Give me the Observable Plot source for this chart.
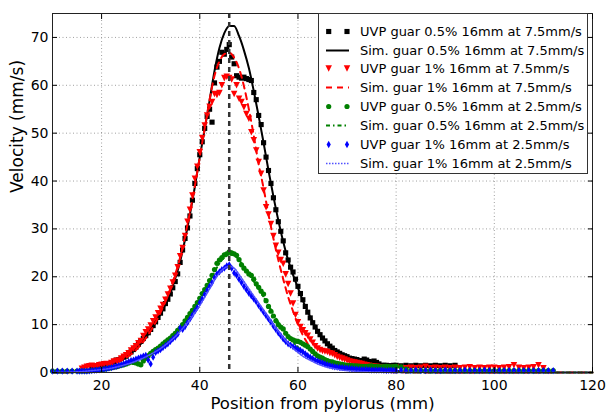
<!DOCTYPE html>
<html><head><meta charset="utf-8">
<script src="https://cdn.jsdelivr.net/npm/d3@7"></script>
<script src="https://cdn.jsdelivr.net/npm/@observablehq/plot@0.6"></script>
<style>
html,body{margin:0;padding:0;background:#fff;}
#wrap{position:relative;width:607px;height:412px;font-family:"DejaVu Sans",sans-serif;}
#legend{position:absolute;left:318px;top:13px;width:270px;height:161px;border:1px solid #333;background:#fff;box-sizing:border-box;}
.row{position:absolute;left:0;height:19px;width:100%;}
.row svg{position:absolute;left:0;top:0;}
.row span{position:absolute;left:41px;top:0;line-height:19px;font-size:13px;color:#000;white-space:nowrap;}
</style></head>
<body><div id="wrap"><div id="chart"></div><div id="legend"></div></div>
<script>
// ---- measured positions (mm) for UVP profiles ----
const pos = [10,11,12,13,14,
  15,15.5,16,16.5,17,17.5,18,18.5,19,19.5,20,20.5,21,21.5,22,22.5,23,23.5,24,24.5,25,25.5,26,26.5,27,27.5,28,28.5,29,29.5,30,30.5,31,31.5,32,32.5,33,33.5,34,34.5,35,
  35.5,36,36.5,37,37.5,38,38.5,39,39.5,40,40.5,41,41.5,42,42.5,43,43.5,44,44.5,45,45.5,46,46.5,47,47.5,48,48.5,49,49.5,50,50.5,51,51.5,52,52.5,53,53.5,54,54.5,55,55.5,56,56.5,57,57.5,58,
  58.5,59,59.5,60,60.5,61,61.5,62,62.5,63,63.5,64,64.5,65,65.5,66,66.5,67,67.5,68,68.5,69,69.5,70,70.5,71,71.5,72,72.5,73,73.5,74,74.5,75,75.5,76,76.5,77,77.5,78,78.5,79,79.5,80,
  81,82,83,84,85,86,87,88,89,90,91,92,93,94,95,96,97,98,99,100,101,102,103,104,105,106,107,108,109,110,111,112];

// UVP guar 0.5% 16mm at 7.5mm/s (mm/s)
const uvpBlack = [null,null,null,null,null,
  null,null,null,null,null,null,1.0,1.1,1.2,1.2,1.3,1.5,1.6,1.8,2.0,2.3,2.6,2.7,2.9,3.2,3.4,3.9,4.3,4.8,5.3,5.9,6.5,7.1,7.7,8.3,9.0,9.8,10.6,11.5,12.4,13.3,14.4,15.3,16.4,17.7,19.0,
  20.6,23.0,25.6,28.0,30.2,32.7,36.0,39.5,42.6,45.5,48.2,51.0,53.5,55.0,52.3,60.5,63.8,65.0,66.9,66.5,67.5,68.5,65.9,64.5,62.0,61.7,61.5,61.7,61.4,61.2,61.0,58.5,57.0,53.7,51.8,48.0,45.0,42.2,39.5,36.5,34.0,31.5,29.5,27.5,25.0,23.5,
  22.0,21.0,19.5,18.0,16.5,15.2,13.8,12.6,11.4,10.4,9.5,8.6,7.9,7.2,6.6,6.0,5.5,5.1,4.6,4.3,4.0,3.7,3.5,3.3,3.0,2.9,2.8,2.7,2.5,2.5,2.8,2.6,2.3,2.2,2.4,2.1,1.8,1.5,1.5,1.5,1.4,1.4,1.5,1.5,
  1.4,1.5,1.4,1.5,1.4,1.5,1.4,1.5,1.4,1.5,1.4,1.5,null,null,null,null,null,null,null,null,null,null,null,null,null,null,null,null,null,null,null,null];

// UVP guar 1% 16mm at 7.5mm/s
const uvpRed = [null,null,null,null,null,
  null,null,0.8,1.0,1.2,1.3,1.4,1.2,1.3,1.5,1.6,1.7,1.8,1.7,2.0,2.3,2.4,2.5,2.9,3.3,3.6,4.0,4.6,5.0,5.5,6.1,6.6,7.6,8.4,9.0,9.8,10.7,11.5,12.4,13.3,14.1,15.2,16.3,17.5,18.8,20.2,
  22.0,24.3,26.0,28.5,31.5,34.0,37.0,40.5,43.0,46.0,49.0,51.6,53.7,55.5,56.5,58.2,58.0,58.4,60.0,61.5,61.8,61.5,61.2,58.2,60.0,57.2,56.5,55.4,54.0,53.0,50.2,48.5,46.4,44.0,41.5,38.0,34.5,33.0,31.0,28.5,26.5,25.0,23.5,22.7,20.5,18.5,
  16.5,14.4,12.0,10.5,9.5,8.8,8.2,7.7,6.9,6.2,5.5,5.0,4.7,4.5,4.4,4.3,4.0,3.9,3.6,3.3,3.1,2.9,2.7,2.5,2.3,2.2,2.1,2.0,1.9,1.8,1.6,1.5,1.4,1.3,1.2,1.2,1.1,1.0,1.0,1.0,0.9,0.9,1.0,1.0,
  0.9,0.9,1.0,0.9,1.0,1.2,0.9,1.0,0.9,1.0,0.9,1.0,0.9,1.0,1.1,0.9,1.0,0.9,1.0,1.0,0.9,1.0,1.1,1.5,1.0,0.9,1.0,1.1,1.5,0.9,null,null];

// UVP guar 0.5% 16mm at 2.5mm/s
const uvpGreen = [0.3,0.3,0.3,0.3,0.3,
  0.3,0.3,0.3,0.3,0.3,0.35,0.4,0.45,0.5,0.55,0.6,0.7,0.8,0.9,1.0,1.1,1.2,1.35,1.5,1.6,1.8,2.0,2.2,2.1,2.0,1.8,1.6,2.4,3.0,3.5,4.0,4.4,4.8,5.1,5.5,6.0,6.4,6.8,7.2,7.7,8.2,
  8.8,9.3,10.0,10.8,11.5,12.3,13.0,13.8,14.6,15.5,16.5,17.3,18.2,19.2,20.3,21.5,22.8,23.5,24.0,24.6,24.8,25.2,25.0,24.8,24.5,23.6,22.5,21.8,21.2,20.6,20.3,19.5,18.5,17.8,17.0,16.4,15.0,13.8,12.8,11.8,10.8,10.0,9.5,9.1,8.2,7.5,
  7.1,6.8,6.6,6.5,6.3,6.0,5.7,5.4,4.9,4.4,3.9,3.5,3.2,3.0,2.7,2.5,2.3,2.2,2.0,1.9,1.8,1.7,1.6,1.5,1.5,1.45,1.4,1.4,1.35,1.3,1.3,1.3,1.35,1.4,1.3,1.3,1.25,1.2,1.25,1.3,1.25,1.2,1.25,1.3,
  1.2,0.7,0.4,0.4,0.4,0.4,0.4,0.4,0.4,0.4,0.4,0.4,0.4,0.4,0.4,0.4,0.4,0.4,0.4,0.4,0.4,0.4,0.4,0.4,0.4,0.4,0.4,0.4,0.4,0.4,0.4,0.4];

// UVP guar 1% 16mm at 2.5mm/s
const uvpBlue = [0.3,0.3,0.3,0.3,0.3,
  0.3,0.3,0.3,0.3,0.3,0.35,0.4,0.45,0.5,0.55,0.6,0.7,0.8,0.9,1.0,1.15,1.3,1.45,1.6,1.8,2.0,2.2,2.5,2.6,2.8,3.0,3.2,3.4,3.6,2.6,1.8,3.2,4.2,4.5,4.8,5.2,5.6,6.0,6.5,7.0,7.4,
  8.0,9.3,9.0,9.6,10.4,11.2,12.0,12.8,13.6,14.6,15.4,16.3,17.2,18.0,18.8,19.8,20.6,21.0,21.5,21.8,22.3,22.5,21.8,20.8,20.3,19.5,18.8,18.0,17.3,16.6,16.0,15.4,14.8,14.0,13.3,12.6,11.9,11.2,10.5,9.7,9.0,8.3,7.7,7.0,6.5,6.0,
  5.7,5.4,5.1,4.8,4.6,4.3,3.9,3.5,3.2,2.9,2.6,2.4,2.2,2.0,1.8,1.6,1.45,1.3,1.2,1.1,1.05,1.0,0.95,0.9,0.85,0.8,0.75,0.7,0.65,0.6,0.6,0.6,0.55,0.5,0.5,0.5,0.5,0.5,0.45,0.4,0.45,0.5,0.45,0.4,
  0.5,0.4,0.4,0.5,0.4,0.4,0.5,0.4,0.4,0.5,0.4,0.4,0.4,0.5,0.4,0.4,0.4,0.5,0.4,0.4,0.4,0.4,0.4,0.4,0.4,0.4,0.4,0.4,0.4,0.4,0.4,0.4];

// ---- simulated profiles ----
const simPos = [10,14,16,18,20,22,24,26,28,30,32,34,35,36,37,38,39,40,41,42,43,44,45,46,47,48,49,50,51,52,53,54,55,56,57,58,59,60,61,62,63,64,65,66,67,68,69,70,72,74,76,78,80,85,90,100,110,120];
const simBlack = [0,0.05,0.2,0.5,0.9,1.6,2.6,4.0,6.0,8.8,12.2,16.6,19.6,23.2,27.8,33.0,38.8,45.0,50.8,56.8,63.0,67.8,70.9,72.4,72.4,70.3,67.3,63.6,58.8,53.5,48.0,42.2,36.8,31.8,27.3,23.5,20.4,17.7,15.0,12.7,10.6,8.7,7.2,6.0,5.0,4.2,3.5,2.9,1.9,1.2,0.8,0.5,0.3,0.1,0,0,0,0];
const simRed = [0,0.1,0.3,0.6,1.0,1.6,2.5,3.8,5.8,8.7,12.5,17.5,20.5,24.0,28.5,33.5,39.0,45.0,51.0,57.0,62.0,65.0,66.5,66.8,65.8,63.5,59.8,55.0,49.5,43.5,38.5,33.0,28.0,23.5,19.5,15.8,12.8,10.0,7.8,6.0,4.5,3.4,2.6,2.0,1.5,1.1,0.8,0.6,0.4,0.25,0.15,0.1,0.05,0,0,0,0,0];
const simGreen = [0,0.1,0.2,0.4,0.6,1.0,1.5,2.2,3.0,4.2,5.5,7.2,8.2,9.3,10.7,12.2,13.7,15.3,17.1,19.0,21.0,22.8,24.0,24.6,24.5,23.5,22.0,20.5,19.0,17.5,15.8,14.0,12.2,10.5,9.0,7.6,6.4,5.3,4.4,3.6,3.0,2.4,2.0,1.6,1.3,1.0,0.8,0.6,0.4,0.25,0.15,0.1,0.05,0,0,0,0,0];
const simBlue = [0,0.1,0.2,0.4,0.6,0.9,1.4,2.0,2.8,3.8,5.0,6.6,7.5,8.6,9.8,11.0,12.5,14.0,15.7,17.5,19.3,20.8,21.8,22.2,21.8,20.5,19.0,17.5,16.0,14.5,13.0,11.5,10.0,8.6,7.3,6.1,5.1,4.2,3.4,2.8,2.3,1.8,1.4,1.1,0.9,0.7,0.5,0.4,0.25,0.15,0.1,0.05,0,0,0,0,0,0];

const xTicks = [20,40,60,80,100,120];
const yTicks = [0,10,20,30,40,50,60,70];
const peakPosition = [46];
const seriesLabels = [
  "UVP guar 0.5% 16mm at 7.5mm/s","Sim. guar 0.5% 16mm at 7.5mm/s",
  "UVP guar 1% 16mm at 7.5mm/s","Sim. guar 1% 16mm at 7.5mm/s",
  "UVP guar 0.5% 16mm at 2.5mm/s","Sim. guar 0.5% 16mm at 2.5mm/s",
  "UVP guar 1% 16mm at 2.5mm/s","Sim. guar 1% 16mm at 2.5mm/s"];

[uvpBlack, uvpRed, uvpGreen, uvpBlue].forEach((a,i) => { if (a.length !== pos.length) console.error("uvp length mismatch", i, a.length, pos.length); });
[simBlack, simRed, simGreen, simBlue].forEach((a,i) => { if (a.length !== simPos.length) console.error("sim length mismatch", i, a.length); });

const pts = vals => pos.map((x,i)=>({x, v: vals[i]})).filter(d => d.v != null);
const simPts = vals => simPos.map((x,i)=>({x, v: vals[i]}));

const triangleDown = {draw(ctx, size){ const h = Math.sqrt(2*size)/2;
  ctx.moveTo(0, h); ctx.lineTo(-h, -h); ctx.lineTo(h, -h); ctx.closePath(); }};

const styles = [
  {kind:"dot", symbol:"square", fill:"#000000", r:2.9},
  {kind:"line", stroke:"#000000", width:2, dash:null},
  {kind:"dot", symbol:triangleDown, fill:"#ff0000", r:2.6},
  {kind:"line", stroke:"#ff0000", width:2, dash:"6,5"},
  {kind:"dot", symbol:"circle", fill:"#008000", r:2.6},
  {kind:"line", stroke:"#008000", width:2, dash:"4,3,1.5,3"},
  {kind:"dot", symbol:"diamond", fill:"#0000ff", r:2.2},
  {kind:"line", stroke:"#5050ff", width:1.6, dash:"1.5,1.5"}
];
const datasets = [pts(uvpBlack), simPts(simBlack), pts(uvpRed), simPts(simRed), pts(uvpGreen), simPts(simGreen), pts(uvpBlue), simPts(simBlue)];

const dataMarks = datasets.map((d,i) => {
  const s = styles[i];
  if (s.kind === "dot") return Plot.dot(d, {x:"x", y:"v", symbol: () => s.symbol, fill: s.fill, r: s.r, stroke: "none"});
  return Plot.line(d, {x:"x", y:"v", stroke: s.stroke, strokeWidth: s.width, strokeDasharray: s.dash, curve: "monotone-x"});
});

const chart = Plot.plot({
  width: 607, height: 412,
  marginLeft: 52, marginRight: 15, marginTop: 13, marginBottom: 40,
  style: {fontFamily: "DejaVu Sans, sans-serif", fontSize: "14px", color: "#000", background: "#fff"},
  x: {domain: [10, 120]},
  y: {domain: [0, 75]},
  symbol: {type: "identity"},
  marks: [
    Plot.gridX(xTicks, {stroke: "#888", strokeOpacity: 1, strokeWidth: 0.8, strokeDasharray: "1,2.5"}),
    Plot.gridY(yTicks, {stroke: "#888", strokeOpacity: 1, strokeWidth: 0.8, strokeDasharray: "1,2.5"}),
    ...dataMarks,
    Plot.ruleX(peakPosition, {stroke: "#333", strokeWidth: 2.5, strokeDasharray: "5,4"}),
    Plot.frame({stroke: "#222", strokeWidth: 1}),
    Plot.axisX(xTicks, {anchor: "bottom", tickSize: 5, dy: -5, tickFormat: () => "", label: null}),
    Plot.axisX(xTicks, {anchor: "top", tickSize: 5, dy: 5, tickFormat: () => "", label: null}),
    Plot.axisY(yTicks, {anchor: "left", tickSize: 5, dx: 5, tickFormat: () => "", label: null}),
    Plot.axisY(yTicks, {anchor: "right", tickSize: 5, dx: -5, tickFormat: () => "", label: null}),
    Plot.axisX(xTicks, {anchor: "bottom", tickSize: 0, tickPadding: 8, fontSize: 14, label: null, fill: "#000"}),
    Plot.axisY(yTicks, {anchor: "left", tickSize: 0, tickPadding: 4, fontSize: 14, label: null, fill: "#000"}),
    Plot.text(["Position from pylorus (mm)"], {frameAnchor: "bottom", dy: 36.5, fontSize: 16.5, fill: "#000"}),
    Plot.text(["Velocity (mm/s)"], {frameAnchor: "left", dx: -35, rotate: -90, fontSize: 17, fill: "#000"})
  ]
});
document.getElementById("chart").appendChild(chart);

// ---- legend ----
const legend = document.getElementById("legend");
seriesLabels.forEach((label, i) => {
  const s = styles[i];
  const row = document.createElement("div");
  row.className = "row";
  row.style.top = (7.7 + i * 18.85) + "px";
  const svg = d3.create("svg").attr("width", 40).attr("height", 19);
  if (s.kind === "dot") {
    const sym = typeof s.symbol === "string" ? {square: d3.symbolSquare, circle: d3.symbolCircle, diamond: d3.symbolDiamond}[s.symbol] : s.symbol;
    const p = d3.symbol().type(sym).size(Math.PI * s.r * s.r)();
    [9.7, 28].forEach(cx => svg.append("path").attr("d", p).attr("transform", `translate(${cx},9.5)`).attr("fill", s.fill));
  } else {
    svg.append("line").attr("x1", 7).attr("x2", 30).attr("y1", 9.5).attr("y2", 9.5)
      .attr("stroke", s.stroke).attr("stroke-width", s.width).attr("stroke-dasharray", s.dash);
  }
  row.appendChild(svg.node());
  const span = document.createElement("span");
  span.textContent = label;
  row.appendChild(span);
  legend.appendChild(row);
});
</script>
</body></html>
